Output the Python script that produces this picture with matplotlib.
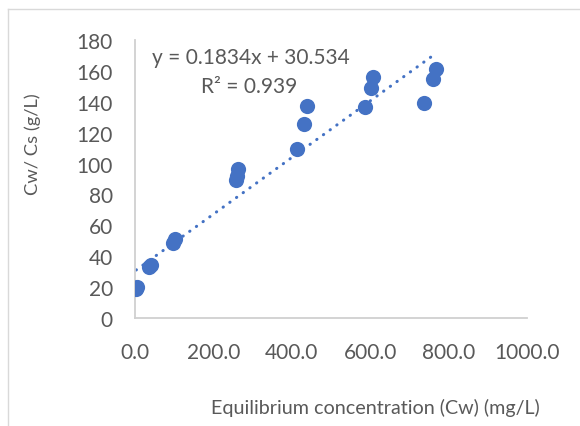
import matplotlib.pyplot as plt
from matplotlib.lines import Line2D

plt.rcParams['font.family'] = ['Lato', 'DejaVu Sans']

# data
cw = [3, 5, 36, 40, 97, 101, 257, 259, 263, 413, 430, 440, 586, 601, 608, 737, 759, 768]
cw_cs = [18.5, 20, 33, 34.5, 48.5, 51, 89.5, 92, 96.5, 109.5, 125.4, 137,
         136.4, 149, 156, 139.5, 155, 161.3]
slope = 0.1834
intercept = 30.534
r2 = 0.939
x_ticks = [0, 200, 400, 600, 800, 1000]
y_ticks = [0, 20, 40, 60, 80, 100, 120, 140, 160, 180]

blue = '#4472C4'
grey_txt = '#595959'
grey_line = '#d0d0d0'

fig = plt.figure(figsize=(5.8, 4.27), dpi=100)
ax = fig.add_axes([135 / 580, 1 - 319 / 427, 392 / 580, 278 / 427])

ax.scatter(cw, cw_cs, s=120, color=blue, zorder=3, linewidths=0)

xs = [min(cw), max(cw)]
ax.plot(xs, [slope * v + intercept for v in xs], color=blue, linewidth=2.2,
        linestyle=(0, (0.1, 2.6)), dash_capstyle='round', zorder=2)

ax.set_xlim(0, 1000)
ax.set_ylim(0, 180)
ax.set_xticks(x_ticks)
ax.set_xticklabels([f'{v:.1f}' for v in x_ticks])
ax.set_yticks(y_ticks)
ax.tick_params(length=0, labelsize=15, colors=grey_txt)
ax.tick_params(axis='x', pad=17)
ax.tick_params(axis='y', pad=16)
for s in ['top', 'right']:
    ax.spines[s].set_visible(False)
for s in ['left', 'bottom']:
    ax.spines[s].set_color(grey_line)
    ax.spines[s].set_linewidth(1.3)

fig.text(251 / 580, 1 - 58 / 427, f'y = {slope}x + {intercept}', fontsize=15,
         color=grey_txt, ha='center', va='center')
fig.text(249 / 580, 1 - 87 / 427, f'R² = {r2}', fontsize=15,
         color=grey_txt, ha='center', va='center')

fig.text(33 / 580, 1 - 144 / 427, 'Cw/ Cs (g/L)', fontsize=13.2, color=grey_txt,
         rotation=90, ha='center', va='center')
fig.text(375 / 580, 1 - 408 / 427, 'Equilibrium concentration (Cw) (mg/L)',
         fontsize=14.2, color=grey_txt, ha='center', va='center')

# chart frame
fig.add_artist(Line2D([8 / 580, 8 / 580], [0, 1 - 10 / 427], color='#d9d9d9', lw=1))
fig.add_artist(Line2D([8 / 580, 1], [1 - 10 / 427, 1 - 10 / 427], color='#d9d9d9', lw=1))

plt.savefig('out.png', dpi=100)
